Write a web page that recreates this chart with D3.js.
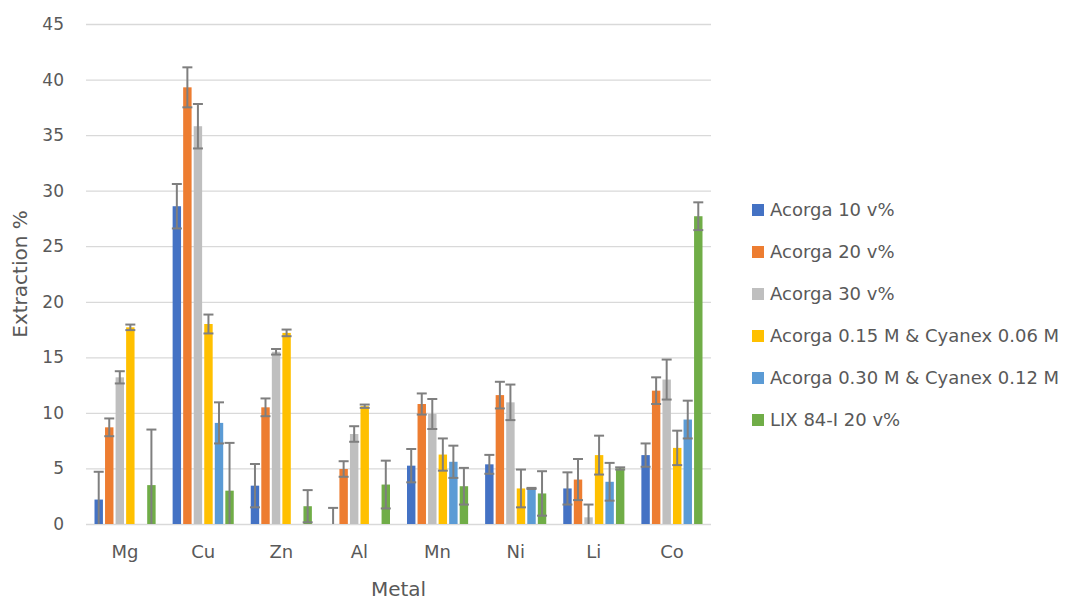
<!DOCTYPE html>
<html>
<head>
<meta charset="utf-8">
<script src="https://cdn.jsdelivr.net/npm/d3@7"></script>
<style>
  body { margin: 0; background: #fff; }
  text { font-family: "DejaVu Sans", sans-serif; fill: #595959; }
</style>
</head>
<body>
<div id="chart-area"></div>
<script>
// categories and series
var metals = ["Mg", "Cu", "Zn", "Al", "Mn", "Ni", "Li", "Co"];
var seriesNames = ["Acorga 10 v%", "Acorga 20 v%", "Acorga 30 v%",
  "Acorga 0.15 M & Cyanex 0.06 M", "Acorga 0.30 M & Cyanex 0.12 M", "LIX 84-I 20 v%"];
var colors = ["#4472C4", "#ED7D31", "#BFBFBF", "#FFC000", "#5B9BD5", "#70AD47"];

// values per series (same order as metals)
var acorga10  = [2.2, 28.6, 3.45, 0, 5.25, 5.37, 3.2, 6.2];
var acorga20  = [8.7, 39.3, 10.5, 4.95, 10.8, 11.6, 4.0, 12.0];
var acorga30  = [13.2, 35.8, 15.5, 8.1, 9.9, 10.95, 0.6, 13.0];
var mix015    = [17.7, 18.0, 17.2, 10.6, 6.25, 3.2, 6.2, 6.85];
var mix030    = [0, 9.1, 0, 0, 5.6, 3.2, 3.8, 9.4];
var lix20     = [3.5, 3.0, 1.6, 3.55, 3.4, 2.75, 5.0, 27.7];

// error (+/-) per series
var err10  = [2.5, 2.0, 1.95, 1.45, 1.5, 0.85, 1.45, 1.05];
var err20  = [0.8, 1.8, 0.8, 0.7, 0.95, 1.2, 1.85, 1.2];
var err30  = [0.55, 2.0, 0.25, 0.7, 1.35, 1.6, 1.15, 1.8];
var err015 = [0.25, 0.85, 0.3, 0.15, 1.45, 1.7, 1.75, 1.55];
var err030 = [0, 1.85, 0, 0, 1.45, 0.05, 1.7, 1.7];
var errLix = [5.0, 4.3, 1.45, 2.15, 1.65, 2.0, 0.1, 1.25];

var yTicks = [0, 5, 10, 15, 20, 25, 30, 35, 40, 45];

var allValues = [acorga10, acorga20, acorga30, mix015, mix030, lix20];
var allErrors = [err10, err20, err30, err015, err030, errLix];

var W = 1065, H = 600;
var plot = {left: 86, right: 711, top: 24, bottom: 524};

var svg = d3.select("#chart-area").append("svg")
    .attr("width", W)
    .attr("height", H);

var x0 = d3.scaleBand()
    .domain(metals)
    .range([plot.left, plot.right]);

var x1 = d3.scaleBand()
    .domain(d3.range(seriesNames.length))
    .range([8.5, x0.bandwidth() - 8.5])
    .paddingInner(0.2);

var y = d3.scaleLinear()
    .domain([0, 45])
    .range([plot.bottom, plot.top]);

// gridlines
svg.append("g")
    .selectAll("line")
    .data(yTicks)
    .enter().append("line")
    .attr("x1", plot.left)
    .attr("x2", plot.right)
    .attr("y1", d => y(d) + 0.5)
    .attr("y2", d => y(d) + 0.5)
    .attr("stroke", "#D9D9D9")
    .attr("stroke-width", 1.3);

// y tick labels
var yAxis = d3.axisLeft(y).tickValues(yTicks).tickSize(0).tickPadding(22);
var gy = svg.append("g")
    .attr("transform", "translate(" + plot.left + ",0)")
    .call(yAxis);
gy.select(".domain").remove();
gy.selectAll("text").style("font-size", "17px").attr("fill", "#595959");

// x labels
var xAxis = d3.axisBottom(x0).tickSize(0).tickPadding(21);
var gx = svg.append("g")
    .attr("transform", "translate(0," + plot.bottom + ")")
    .call(xAxis);
gx.select(".domain").remove();
gx.selectAll("text").style("font-size", "18px").attr("fill", "#595959");

// bars
var rows = [];
allValues.forEach(function (vals, s) {
  vals.forEach(function (v, i) {
    rows.push({metal: metals[i], s: s, value: v, err: allErrors[s][i]});
  });
});

svg.append("g")
    .selectAll("rect")
    .data(rows.filter(d => d.value > 0))
    .enter().append("rect")
    .attr("x", d => x0(d.metal) + x1(d.s))
    .attr("width", x1.bandwidth())
    .attr("y", d => y(d.value))
    .attr("height", d => y(0) - y(d.value))
    .attr("fill", d => colors[d.s]);

// error bars
var eb = svg.append("g")
    .selectAll("g")
    .data(rows.filter(d => d.err > 0 || d.value > 0))
    .enter().append("g")
    .attr("stroke", "#7F7F7F")
    .attr("stroke-width", 2);

eb.append("line")
    .attr("x1", d => x0(d.metal) + x1(d.s) + x1.bandwidth() / 2)
    .attr("x2", d => x0(d.metal) + x1(d.s) + x1.bandwidth() / 2)
    .attr("y1", d => y(d.value + d.err))
    .attr("y2", d => y(Math.max(0, d.value - d.err)));

eb.append("line")
    .attr("x1", d => x0(d.metal) + x1(d.s) + x1.bandwidth() / 2 - 5)
    .attr("x2", d => x0(d.metal) + x1(d.s) + x1.bandwidth() / 2 + 5)
    .attr("y1", d => y(d.value + d.err))
    .attr("y2", d => y(d.value + d.err));

eb.filter(d => d.value - d.err > 0).append("line")
    .attr("x1", d => x0(d.metal) + x1(d.s) + x1.bandwidth() / 2 - 5)
    .attr("x2", d => x0(d.metal) + x1(d.s) + x1.bandwidth() / 2 + 5)
    .attr("y1", d => y(d.value - d.err))
    .attr("y2", d => y(d.value - d.err));

// axis titles
svg.append("text")
    .attr("transform", "translate(27," + ((plot.top + plot.bottom) / 2) + ") rotate(-90)")
    .attr("text-anchor", "middle")
    .style("font-size", "20px")
    .text("Extraction %");

svg.append("text")
    .attr("x", (plot.left + plot.right) / 2)
    .attr("y", 596)
    .attr("text-anchor", "middle")
    .style("font-size", "20px")
    .text("Metal");

// legend
var legend = svg.append("g")
    .selectAll("g")
    .data(seriesNames)
    .enter().append("g")
    .attr("transform", (d, i) => "translate(752," + (210 + i * 42) + ")");

legend.append("rect")
    .attr("x", 0)
    .attr("y", -6)
    .attr("width", 12)
    .attr("height", 12)
    .attr("fill", (d, i) => colors[i]);

legend.append("text")
    .attr("x", 18)
    .attr("dy", "0.35em")
    .style("font-size", "18px")
    .text(d => d);
</script>
</body>
</html>
